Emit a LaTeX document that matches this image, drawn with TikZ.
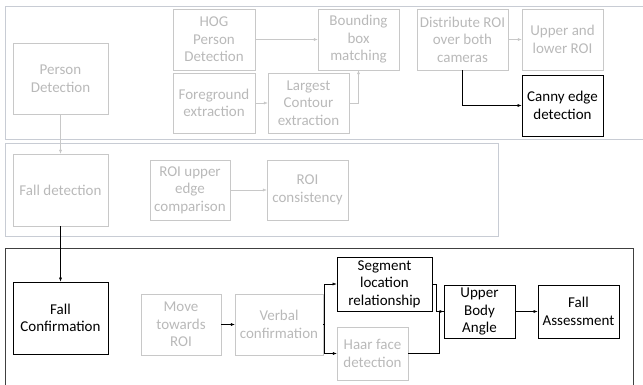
\documentclass[tikz,border=0pt]{standalone}
\usepackage{fontspec}
\setmainfont{Carlito}
\usepackage{xcolor}
\usetikzlibrary{arrows.meta}
\definecolor{lightbox}{RGB}{200,200,200}
\definecolor{lighttext}{RGB}{185,185,185}
\definecolor{frameline}{RGB}{200,204,212}

\tikzset{
  box/.style={draw=lightbox, text=lighttext, align=center, inner sep=1pt,
    font=\fontsize{15}{17.5}\selectfont},
  darkbox/.style={draw=black, thick, text=black, align=center, inner sep=1pt,
    font=\fontsize{15}{17.5}\selectfont},
  lightarrow/.style={draw=lightbox, -{Latex[length=4pt,width=3pt]}},
  darkarrow/.style={draw=black, -{Latex[length=4pt,width=3pt]}}
}

\begin{document}
\begin{tikzpicture}[x=1pt, y=-1pt]
\useasboundingbox (0,0) rectangle (643,385);

% containers
\draw[frameline, line width=0.9pt] (5,6) rectangle (650,139);
\draw[frameline, line width=0.9pt] (5,143) rectangle (498,236);
\draw[black!75, thick] (5,248) rectangle (633,392);

% top row
\node[box, minimum width=95pt, minimum height=71pt] (persondet) at (60.5,78.5) {Person\\Detection};
\node[box, minimum width=82pt, minimum height=61pt] (hog) at (214,39.5) {HOG\\Person\\Detection};
\node[box, minimum width=82pt, minimum height=60pt] (fg) at (214,103) {Foreground\\extraction};
\node[box, minimum width=81pt, minimum height=60pt] (contour) at (308.5,103) {Largest\\Contour\\extraction};
\node[box, minimum width=81pt, minimum height=61pt] (bbox) at (358.5,39.5) {Bounding\\box\\matching};
\node[box, minimum width=91pt, minimum height=61pt] (distrib) at (462.5,39.5) {Distribute ROI\\over both\\cameras};
\node[box, minimum width=81pt, minimum height=61pt] (upperlower) at (562.5,39.5) {Upper and\\lower ROI};
\node[darkbox, minimum width=81pt, minimum height=61pt] (canny) at (562.5,105.5) {Canny edge\\detection};

\draw[lightarrow] (hog) -- (bbox);
\draw[lightarrow] (fg) -- (contour);
\draw[lightarrow] (contour.east) -| (bbox.south);
\draw[lightarrow] (distrib) -- (upperlower);
\draw[darkarrow] (distrib.south) |- (canny.west);

% middle row
\node[box, minimum width=95pt, minimum height=72pt] (falldet) at (60.5,190) {Fall detection};
\node[box, minimum width=80pt, minimum height=60pt] (roiedge) at (190,190) {ROI upper\\edge\\comparison};
\node[box, minimum width=81pt, minimum height=60pt] (roicons) at (307.5,190) {ROI\\consistency};

\draw[lightarrow] (persondet) -- (falldet);
\draw[lightarrow] (roiedge) -- (roicons);

% bottom row
\node[darkbox, minimum width=95pt, minimum height=72pt] (fallconf) at (60.5,318) {Fall\\Confirmation};
\node[box, minimum width=80pt, minimum height=61pt] (move) at (181,324.5) {Move\\towards\\ROI};
\node[box, minimum width=88pt, minimum height=61pt] (verbal) at (279,324.5) {Verbal\\confirmation};
\node[darkbox, minimum width=95pt, minimum height=54pt] (segment) at (384.5,284) {Segment\\location\\relationship};
\node[box, minimum width=71pt, minimum height=53pt] (haar) at (372.5,353.5) {Haar face\\detection};
\node[darkbox, minimum width=71pt, minimum height=53pt] (angle) at (479.5,311.5) {Upper\\Body\\Angle};
\node[darkbox, minimum width=81pt, minimum height=53pt] (assess) at (578.5,311.5) {Fall\\Assessment};

\coordinate (fork) at (324.5,324.5);
\coordinate (joinA) at (436,284);
\coordinate (joinB) at (439,353.5);

\draw[darkarrow] (falldet) -- (fallconf);
\draw[darkarrow] (move) -- (verbal);
\draw[black] (verbal.east) -- (fork);
\draw[darkarrow] (fork) |- (segment.west);
\draw[darkarrow] (fork) |- (haar.west);
\draw[darkarrow] (segment.east) -- (joinA) |- (angle.west);
\draw[black] (haar.east) -- (joinB) |- (angle.west);
\draw[darkarrow] (angle) -- (assess);
\end{tikzpicture}
\end{document}
